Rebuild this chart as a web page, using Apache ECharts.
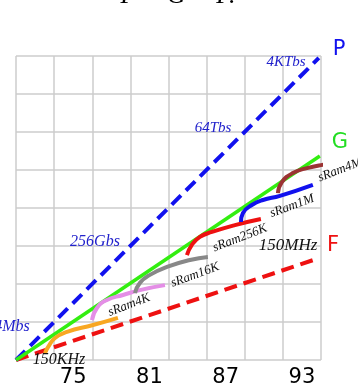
<!DOCTYPE html>
<html>
<head>
<meta charset="utf-8">
<script src="https://cdn.jsdelivr.net/npm/echarts@6/dist/echarts.min.js"></script>
<style>
  html, body { margin: 0; padding: 0; background: #fff; }
  #main { width: 358px; height: 390px; }
</style>
</head>
<body>
<div id="main"></div>
<script>
// x in years (19xx), y in grid rows (log scale steps)
var yearTicks = [75, 81, 87, 93];
var lineP = [[70.5, 0], [94.33, 7.95]];
var lineG = [[70.5, 0], [94.41, 5.37]];
var lineF = [[70.5, 0], [94.33, 2.68]];
var sram4k_a = [[72.78, 0.18], [73.02, 0.34], [73.57, 0.58], [74.51, 0.74], [76.56, 0.92], [78.52, 1.11]];
var sram4k = [[76.48, 1.05], [76.87, 1.37], [77.66, 1.58], [78.92, 1.71], [80.25, 1.84], [82.22, 1.97]];
var sram16k = [[79.86, 1.76], [80.25, 2.03], [81.04, 2.24], [82.38, 2.45], [84.19, 2.63], [85.60, 2.71]];
var sram256k = [[83.95, 2.76], [84.34, 3.03], [84.97, 3.24], [85.92, 3.37], [87.73, 3.55], [89.77, 3.71]];
var sram1m = [[88.20, 3.63], [88.36, 3.87], [89.06, 4.08], [89.93, 4.21], [91.27, 4.32], [93.86, 4.61]];
var sram4m = [[91.11, 4.39], [91.42, 4.68], [92.29, 4.92], [93.39, 5.05], [95.20, 5.18], [96.93, 5.34]];

var myChart = echarts.init(document.getElementById('main'));

function curve(data, color) {
    return {
        type: 'line', xAxisIndex: 1, data: data, smooth: true, symbol: 'none',
        clip: false, lineStyle: { color: color, width: 4 }, z: 3
    };
}

var serif = '"Liberation Serif", "DejaVu Serif", serif';
function note(text, x, y, color, size, rot) {
    return {
        type: 'text', x: x, y: y, rotation: (rot || 0) * Math.PI / 180, z: 10,
        style: { text: text, fill: color, font: 'italic ' + size + 'px ' + serif, align: 'center', verticalAlign: 'middle' }
    };
}
function big(text, x, y, color) {
    return {
        type: 'text', x: x, y: y, z: 10,
        style: { text: text, fill: color, font: '21px "DejaVu Sans", sans-serif', align: 'center', verticalAlign: 'middle' }
    };
}

var option = {
    animation: false,
    grid: { left: 16, right: 37, top: 56, bottom: 30 },
    xAxis: [
        {
            type: 'value', min: 0, max: 24, interval: 3,
            axisLine: { show: false }, axisTick: { show: false }, axisLabel: { show: false },
            splitLine: { show: true, lineStyle: { color: '#cccccc', width: 1.5 } }
        },
        {
            type: 'value', min: 70.5, max: 94.5, position: 'bottom',
            axisLine: { show: false }, axisTick: { show: false }, splitLine: { show: false },
            axisLabel: {
                customValues: yearTicks, margin: 7, color: '#000',
                fontSize: 21, fontFamily: '"DejaVu Sans", sans-serif'
            }
        }
    ],
    yAxis: {
        type: 'value', min: 0, max: 8, interval: 1,
        axisLine: { show: false }, axisTick: { show: false }, axisLabel: { show: false },
        splitLine: { show: true, lineStyle: { color: '#cccccc', width: 1.5 } }
    },
    series: [
        { type: 'line', xAxisIndex: 1, data: lineF, symbol: 'none', lineStyle: { color: '#ee1111', width: 4, type: [13, 7] }, z: 2 },
        { type: 'line', xAxisIndex: 1, data: lineP, symbol: 'none', lineStyle: { color: '#1111ee', width: 4, type: [13, 7] }, z: 2 },
        { type: 'line', xAxisIndex: 1, data: lineG, symbol: 'none', lineStyle: { color: '#33ee11', width: 3.5 }, z: 2 },
        curve(sram4k_a, '#f8a722'),
        curve(sram4k, '#e48ee6'),
        curve(sram16k, '#888888'),
        curve(sram256k, '#ee1111'),
        curve(sram1m, '#1111ee'),
        curve(sram4m, '#9b3333')
    ],
    graphic: [
        note('P = G × F.', 178, -4, '#000', 26, 0),
        big('P', 339, 50, '#1111ee'),
        big('G', 340, 143, '#22dd22'),
        big('F', 333, 246, '#ee1111'),
        note('4KTbs', 286, 62, '#2222cc', 15, 0),
        note('64Tbs', 213, 128, '#2222cc', 15, 0),
        note('256Gbs', 95, 242, '#2222cc', 16, 0),
        note('4Mbs', 12, 327, '#2222cc', 16, 0),
        note('150KHz', 59, 360, '#111', 16, 0),
        note('150MHz', 288, 246, '#111', 17, 0),
        note('sRam4K', 129, 305, '#111', 13, 21),
        note('sRam16K', 195, 275, '#111', 13, 20),
        note('sRam256K', 240, 238, '#111', 13, 21),
        note('sRam1M', 292, 206, '#111', 13, 20),
        note('sRam4M', 340, 170, '#111', 13, 21)
    ]
};

myChart.setOption(option);
</script>
</body>
</html>
